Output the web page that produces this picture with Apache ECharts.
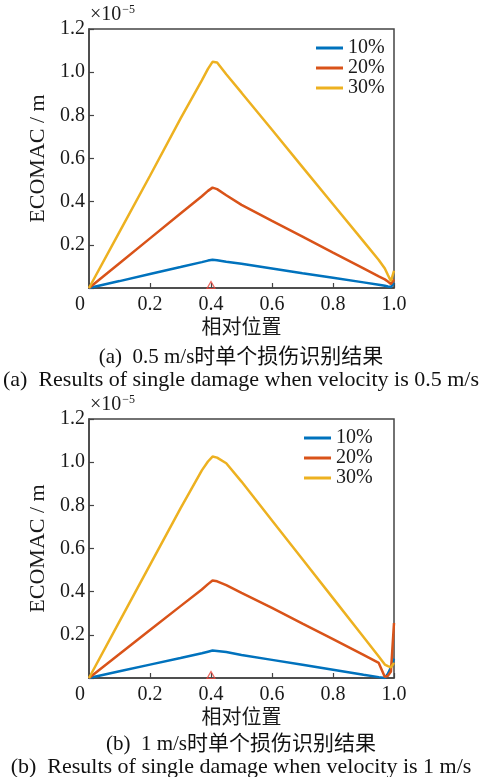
<!DOCTYPE html>
<html><head><meta charset="utf-8">
<script src="https://cdn.jsdelivr.net/npm/echarts@6/dist/echarts.min.js"></script>
<style>html,body{margin:0;padding:0;background:#fff}#c{width:479px;height:777px}</style>
</head><body><div id="c"></div>
<script>
// shared x positions (relative position)
const xPos = [0, 0.1, 0.2, 0.3, 0.37, 0.39, 0.405, 0.42, 0.45, 0.5, 0.6, 0.7, 0.8, 0.9, 0.95, 0.97, 0.98, 0.99, 1.0];
// (a) 0.5 m/s  (values x1e-5 m)
const aBlue   = [0, 0.032, 0.065, 0.097, 0.120, 0.127, 0.131, 0.129, 0.122, 0.112, 0.090, 0.068, 0.047, 0.026, 0.015, 0.010, 0.007, 0.005, 0.023];
const aRed    = [0, 0.115, 0.230, 0.345, 0.425, 0.450, 0.465, 0.458, 0.430, 0.385, 0.311, 0.238, 0.164, 0.091, 0.054, 0.040, 0.030, 0.018, 0.040];
const aOrange = [0, 0.260, 0.520, 0.785, 0.962, 1.015, 1.048, 1.045, 0.990, 0.905, 0.733, 0.560, 0.388, 0.216, 0.130, 0.090, 0.060, 0.032, 0.080];
// (b) 1 m/s
const bBlue   = [0, 0.031, 0.062, 0.093, 0.115, 0.122, 0.127, 0.125, 0.120, 0.107, 0.084, 0.061, 0.038, 0.015, 0.004, 0.000, 0.020, 0.050, 0.090];
const bRed    = [0, 0.111, 0.222, 0.333, 0.410, 0.435, 0.452, 0.448, 0.430, 0.394, 0.325, 0.252, 0.180, 0.107, 0.070, 0.005, 0.010, 0.030, 0.255];
const bOrange = [0, 0.262, 0.524, 0.786, 0.962, 1.003, 1.026, 1.021, 0.995, 0.910, 0.730, 0.550, 0.370, 0.190, 0.100, 0.062, 0.055, 0.050, 0.070];
const damagePos = [[0.4, 0]];
const seriesNames = ['10%', '20%', '30%'];
const colors = ['#0072BD', '#D95319', '#EDB120'];
const captionsCN = ['(a)  0.5 m/s时单个损伤识别结果', '(b)  1 m/s时单个损伤识别结果'];
const captionsEN = ['(a)  Results of single damage when velocity is 0.5 m/s', '(b)  Results of single damage when velocity is 1 m/s'];

const serif = 'Liberation Serif, Noto Sans CJK SC';
const axisColor = '#444';
const txt = '#1a1a1a';
const pair = (ys) => xPos.map((x, i) => [x, ys[i]]);

function xAxisOf(idx) {
  return {
    type: 'value', gridIndex: idx, min: 0, max: 1, interval: 0.2,
    name: '相对位置', nameLocation: 'middle', nameGap: 28,
    nameTextStyle: { fontFamily: 'Noto Sans CJK SC', fontSize: 20, color: txt },
    axisLine: { lineStyle: { color: axisColor, width: 1.5 } },
    axisTick: { inside: true, length: 5, lineStyle: { color: axisColor, width: 1.2 } },
    splitLine: { show: false },
    axisLabel: {
      margin: 7, fontFamily: serif, fontSize: 20, color: txt,
      formatter: v => v === 0 ? '{o|0}' : v.toFixed(1),
      rich: { o: { fontFamily: serif, fontSize: 20, color: txt, padding: [0, 18, 0, 0] } }
    }
  };
}
function yAxisOf(idx) {
  return {
    type: 'value', gridIndex: idx, min: 0, max: 1.2, interval: 0.2,
    name: 'ECOMAC / m', nameLocation: 'middle', nameGap: 39,
    nameTextStyle: { fontFamily: serif, fontSize: 22, color: txt },
    axisLine: { show: true, lineStyle: { color: axisColor, width: 1.5 } },
    axisTick: { show: true, inside: true, length: 5, lineStyle: { color: axisColor, width: 1.2 } },
    splitLine: { show: false },
    axisLabel: {
      margin: 4, fontFamily: serif, fontSize: 20, color: txt,
      formatter: v => v === 0 ? '' : v.toFixed(1)
    }
  };
}
function lineSeries(idx, data) {
  return data.map((ys, k) => ({
    type: 'line', name: seriesNames[k], xAxisIndex: idx, yAxisIndex: idx,
    data: pair(ys), symbol: 'none', smooth: false,
    lineStyle: { color: colors[k], width: 2.5 }, itemStyle: { color: colors[k] },
    z: 3 + k
  }));
}
function markerSeries(idx) {
  return {
    type: 'scatter', name: 'damage', xAxisIndex: idx, yAxisIndex: idx,
    data: damagePos, symbol: 'triangle', symbolSize: [8, 7], symbolOffset: [0, -3],
    itemStyle: { color: 'rgba(0,0,0,0)', borderColor: '#E8433A', borderWidth: 1.2 },
    clip: false, silent: true, z: 10
  };
}
function legendOf(left, top) {
  return {
    orient: 'vertical', left: left, top: top, data: seriesNames,
    icon: 'rect', itemWidth: 27, itemHeight: 3, itemGap: 0, padding: 0,
    textStyle: { fontFamily: serif, fontSize: 20, color: txt, lineHeight: 18.3 }
  };
}
function expText(x, y) {
  return {
    type: 'text', x: x, y: y,
    style: {
      text: '{a|×10}{b|−5}',
      rich: {
        a: { fontFamily: serif, fontSize: 20, fill: txt, lineHeight: 22 },
        b: { fontFamily: serif, fontSize: 12, fill: txt, lineHeight: 22, verticalAlign: 'top', padding: [0, 0, 0, 1] }
      }
    }
  };
}
function caption(text, cy, size) {
  return {
    type: 'text', x: 241, y: cy,
    style: { text: text, fontFamily: serif, fontSize: size, fill: '#111', align: 'center', verticalAlign: 'middle' }
  };
}

const chart = echarts.init(document.getElementById('c'), null, { renderer: 'canvas' });
chart.setOption({
  animation: false,
  backgroundColor: '#fff',
  grid: [
    { left: 89, top: 29, width: 305, height: 259, show: true, borderColor: axisColor, borderWidth: 1.5 },
    { left: 89, top: 419, width: 305, height: 259, show: true, borderColor: axisColor, borderWidth: 1.5 }
  ],
  xAxis: [xAxisOf(0), xAxisOf(1)],
  yAxis: [yAxisOf(0), yAxisOf(1)],
  legend: [legendOf(316, 38), legendOf(304, 428)],
  series: [
    ...lineSeries(0, [aBlue, aRed, aOrange]), markerSeries(0),
    ...lineSeries(1, [bBlue, bRed, bOrange]), markerSeries(1)
  ],
  graphic: [
    expText(90, 4),
    expText(90, 394),
    caption(captionsCN[0], 357, 21),
    caption(captionsEN[0], 380, 22),
    caption(captionsCN[1], 744, 21),
    caption(captionsEN[1], 767, 22)
  ]
});
</script></body></html>
